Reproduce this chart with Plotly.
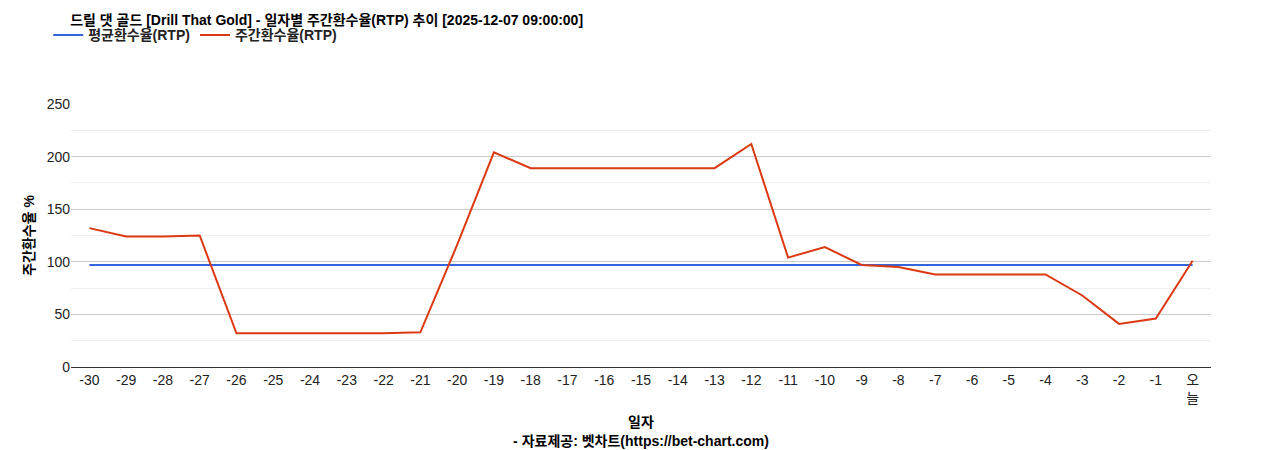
import plotly.graph_objects as go

days = [str(d) for d in range(-30, 0)] + ["오<br>늘"]
weekly_rtp = [132, 124, 124, 125, 32, 32, 32, 32, 32, 33, 116, 204, 189, 189, 189, 189, 189, 189,
              212, 104, 114, 97, 95, 88, 88, 88, 88, 68, 41, 46, 101]
avg_rtp = [97] * len(days)

font = "Liberation Sans, Arial, Noto Sans CJK KR, sans-serif"
fig = go.Figure()
fig.add_trace(go.Scatter(x=days, y=avg_rtp, mode="lines", name="<b>평균환수율(RTP)</b>",
                         line=dict(color="#3366dd", width=2)))
fig.add_trace(go.Scatter(x=days, y=weekly_rtp, mode="lines", name="<b>주간환수율(RTP)</b>",
                         line=dict(color="#dc3912", width=2)))

fig.update_layout(
    width=1268, height=450,
    plot_bgcolor="white", paper_bgcolor="white",
    font=dict(family=font, size=14, color="#222"),
    title=dict(text="<b>드릴 댓 골드 [Drill That Gold] - 일자별 주간환수율(RTP) 추이 [2025-12-07 09:00:00]</b>",
               x=0.049, xanchor="left", y=0.985, yanchor="top", font=dict(size=14, color="#000")),
    legend=dict(orientation="h", x=-0.02, y=1.2, xanchor="left", yanchor="bottom",
                font=dict(size=14, color="#222"), traceorder="normal"),
    margin=dict(l=63, r=65, t=86, b=87),
    xaxis=dict(title=dict(text="<b>일자</b><br><b>- 자료제공: 벳차트(https://bet-chart.com)</b>",
                          font=dict(size=14, color="#000"), standoff=12),
               showgrid=False, showline=True, linecolor="#333", ticks="",
               range=[-0.5, len(days) - 0.5], tickfont=dict(size=14)),
    yaxis=dict(title=dict(text="<b>주간환수율 %</b>", font=dict(size=14, color="#000"), standoff=8),
               range=[0, 250], dtick=50, gridcolor="#cccccc", zeroline=False,
               minor=dict(dtick=25, showgrid=True, gridcolor="#eeeeee"),
               tickfont=dict(size=14)),
)
fig.write_html("out.html")
